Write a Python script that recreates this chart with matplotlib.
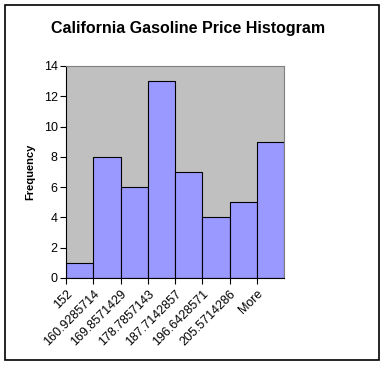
import matplotlib
matplotlib.use("Agg")
import matplotlib.pyplot as plt
import numpy as np

bins = ["152", "160.9285714", "169.8571429", "178.7857143", "187.7142857",
        "196.6428571", "205.5714286", "More"]
freq = [1, 8, 6, 13, 7, 4, 5, 9]

plt.rcParams['font.family'] = ['Liberation Sans', 'DejaVu Sans']

fig = plt.figure(figsize=(3.85, 3.66), dpi=100)
# outer chart border
fig.patches.append(plt.Rectangle((5 / 385, 1 - 360 / 366), 374 / 385, 355 / 366,
                                 transform=fig.transFigure, fill=False,
                                 edgecolor='black', linewidth=1.2))

ax = fig.add_axes([66 / 385, 1 - 278 / 366, 218 / 385, 212 / 366])
ax.set_facecolor('#C0C0C0')

x = np.arange(len(freq))
ax.bar(x, freq, width=1.0, align='edge', color='#9999FF', edgecolor='black', linewidth=0.8)

ax.set_xlim(0, len(freq))
ax.set_ylim(0, 14)
ax.set_yticks(range(0, 15, 2))
ax.set_xticks(x)
ax.set_xticklabels(bins, rotation=45, ha='right', rotation_mode='anchor', fontsize=9)
ax.tick_params(axis='y', labelsize=9, direction='out', length=4, width=0.8, pad=2)
ax.tick_params(axis='x', direction='out', length=4, width=0.8, pad=3)

for s in ['top', 'right']:
    ax.spines[s].set_color('#808080')
for s in ['left', 'bottom']:
    ax.spines[s].set_color('black')

ax.set_ylabel('Frequency', fontsize=8, fontweight='bold')
ax.yaxis.set_label_coords(-0.14, 0.5)
fig.text(188 / 385, 1 - 28 / 366, 'California Gasoline Price Histogram',
         ha='center', va='center', fontsize=11.5, fontweight='bold')

fig.savefig('out.png', dpi=100)
